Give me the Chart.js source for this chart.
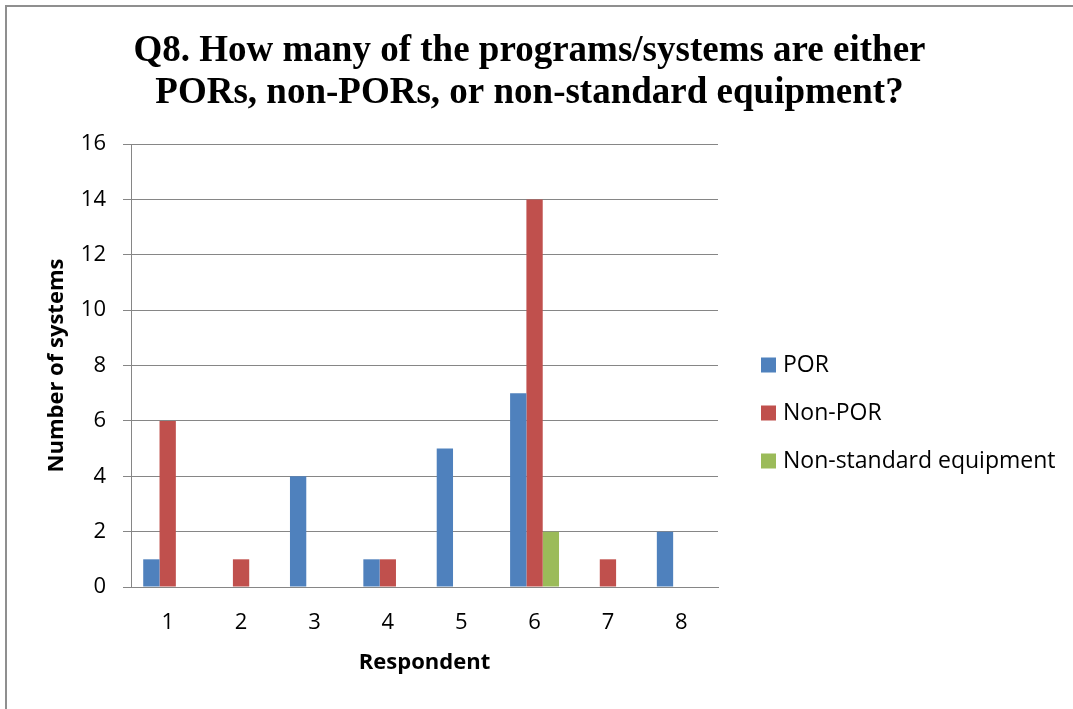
<!DOCTYPE html>
<html><head><meta charset="utf-8">
<script src="https://cdn.jsdelivr.net/npm/chart.js@4.4.1/dist/chart.umd.min.js"></script>
<style>
html,body{margin:0;padding:0;background:#fff;overflow:hidden;width:1073px;height:709px;}
#frame{position:absolute;left:5px;top:5px;width:1200px;height:900px;border-left:2px solid #8f8f8f;border-top:2px solid #8f8f8f;}
canvas{position:absolute;left:0;top:0;}
</style></head><body>
<div id="frame"></div>
<canvas id="c" width="1073" height="709"></canvas>
<script>
const titleLines = ['Q8. How many of the programs/systems are either', 'PORs, non-PORs, or non-standard equipment?'];
const categories = ['1', '2', '3', '4', '5', '6', '7', '8'];
const seriesNames = ['POR', 'Non-POR', 'Non-standard equipment'];
const porValues = [1, 0, 4, 1, 5, 7, 0, 2];
const nonPorValues = [6, 1, 0, 1, 0, 14, 1, 0];
const nonStdValues = [0, 0, 0, 0, 0, 2, 0, 0];
const yMin = 0, yMax = 16, yStep = 2;
const xTitle = 'Respondent';
const yTitle = 'Number of systems';

const GRID = '#868686';
const SANS = '"Open Sans", "Liberation Sans", sans-serif';

const sideLegend = {
  id: 'sideLegend',
  afterDraw(chart) {
    const ctx = chart.ctx;
    ctx.save();
    ctx.font = '23px ' + SANS;
    ctx.textBaseline = 'alphabetic';
    ctx.textAlign = 'left';
    chart.data.datasets.forEach((ds, i) => {
      const base = 372 + i * 48;
      ctx.fillStyle = ds.backgroundColor;
      ctx.fillRect(761, base - 14.5, 15, 15);
      ctx.fillStyle = '#000';
      ctx.fillText(ds.label, 783, base);
    });
    ctx.restore();
  }
};

new Chart(document.getElementById('c'), {
  type: 'bar',
  data: {
    labels: categories,
    datasets: [
      { label: seriesNames[0], data: porValues, backgroundColor: '#4F81BD' },
      { label: seriesNames[1], data: nonPorValues, backgroundColor: '#C0504D' },
      { label: seriesNames[2], data: nonStdValues, backgroundColor: '#9BBB59' }
    ]
  },
  options: {
    responsive: false,
    animation: false,
    devicePixelRatio: 1,
    layout: { padding: { left: 0, top: 0, bottom: 0, right: 14 } },
    datasets: { bar: { categoryPercentage: 0.667, barPercentage: 1 } },
    plugins: {
      legend: { display: false },
      tooltip: { enabled: false },
      title: {
        display: true,
        text: titleLines,
        color: '#000',
        font: { family: '"Liberation Serif", "Times New Roman", serif', size: 37, weight: 'bold', lineHeight: 42 / 37 },
        padding: { top: 30.5, bottom: 29.5 }
      }
    },
    scales: {
      x: {
        grid: { display: false },
        border: { display: true, color: GRID, width: 1 },
        ticks: { font: { family: SANS, size: 22 }, color: '#000', padding: 15 },
        title: { display: true, text: xTitle, color: '#000', font: { family: SANS, size: 22, weight: 'bold' }, padding: { top: 0, bottom: 33.3 } },
        afterFit(s) { s.height = 122; }
      },
      y: {
        min: yMin, max: yMax,
        ticks: { stepSize: yStep, font: { family: SANS, size: 22 }, color: '#000', padding: 17 },
        grid: { color: GRID, lineWidth: 1, tickLength: 8, drawTicks: true },
        border: { display: true, color: GRID, width: 1 },
        title: { display: true, text: yTitle, color: '#000', font: { family: SANS, size: 22, weight: 'bold' }, padding: { top: 43.3, bottom: 0 } },
        afterFit(s) { s.width = 131; }
      },
      legendSpace: {
        axis: 'y',
        position: 'right',
        display: true,
        grid: { display: false, drawTicks: false },
        border: { display: false },
        ticks: { display: false },
        afterFit(s) { s.width = 341; }
      }
    }
  },
  plugins: [sideLegend]
});
</script>
</body></html>
